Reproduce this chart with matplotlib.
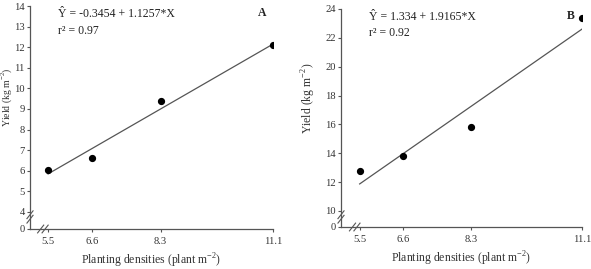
import matplotlib
matplotlib.use("Agg")
import matplotlib.pyplot as plt
from matplotlib.lines import Line2D
from matplotlib.transforms import Affine2D, ScaledTranslation

plt.rcParams['font.family'] = ['Liberation Serif', 'DejaVu Serif']
plt.rcParams['mathtext.fontset'] = 'custom'
plt.rcParams['mathtext.rm'] = 'Liberation Serif'

# data
densities = [5.5, 6.6, 8.3, 11.1]
yield_a = [6.05, 6.62, 9.38, 12.10]
yield_b = [12.78, 13.78, 15.82, 23.38]
coef_a = (-0.3454, 1.1257)
coef_b = (1.334, 1.9165)
eq_a = "Ŷ = -0.3454 + 1.1257*X"
eq_b = "Ŷ = 1.334 + 1.9165*X"
r2_a = "r² = 0.97"
r2_b = "r² = 0.92"
yticks_a = [4, 5, 6, 7, 8, 9, 10, 11, 12, 13, 14]
yticks_b = [10, 12, 14, 16, 18, 20, 22, 24]

gray = '#555555'
fig = plt.figure(figsize=(5.91, 2.69), dpi=100)


def brk(ax, x, y, horizontal):
    # small "//" break marks, sizes in points
    for off in (-1.6, 1.6):
        if horizontal:
            xs, ys = [off - 2.2, off + 2.2], [-2.8, 2.8]
        else:
            xs, ys = [-2.2, 2.2], [off - 2.8, off + 2.8]
        tr = Affine2D().scale(1 / 72.) + fig.dpi_scale_trans + ScaledTranslation(x, y, ax.transAxes)
        ax.add_line(Line2D(xs, ys, transform=tr, color=gray, lw=0.8, clip_on=False))


def panel(rect, yv, coef, yticks, y0, ytop, xlo, eq, r2, letter, ybx, xbx, ylx, ylsize):
    ax = fig.add_axes(rect)
    ax.plot(densities, yv, 'o', color='black', ms=4.2, zorder=3)
    fit = [coef[0] + coef[1] * d for d in (densities[0], densities[-1])]
    ax.plot([densities[0], densities[-1]], fit, color=gray, lw=0.9)
    ax.set_xlim(xlo, 11.1)
    ax.set_ylim(y0, ytop)
    ax.set_xticks(densities)
    ax.set_xticklabels([str(d) for d in densities])
    ax.set_yticks([y0] + yticks)
    ax.set_yticklabels(['0'] + [str(t) for t in yticks])
    for s in ('top', 'right'):
        ax.spines[s].set_visible(False)
    for s in ('left', 'bottom'):
        ax.spines[s].set_color(gray)
        ax.spines[s].set_linewidth(0.9)
    ax.tick_params(length=2.2, width=0.8, color=gray, labelsize=7.6, labelcolor='#333333', pad=1.5)
    ax.tick_params(axis='x', pad=3.5)
    ax.set_xlabel("Planting densities (plant m$^{-2}$)", fontsize=8.5, color='#333333', labelpad=4)
    ax.set_ylabel("Yield (kg m$^{-2}$)", fontsize=ylsize, color='#333333')
    ax.yaxis.set_label_coords(ylx, 0.59)
    ax.text(0.115, 0.965, eq, transform=ax.transAxes, fontsize=8.5, va='center', color='#222222')
    ax.text(0.115, 0.89, r2, transform=ax.transAxes, fontsize=8.5, va='center', color='#222222')
    ax.text(letter[1], 0.97, letter[0], transform=ax.transAxes, fontsize=8.5,
            fontweight='bold', va='center', ha='center', color='#222222')
    brk(ax, 0, ybx, False)
    brk(ax, xbx, 0, True)
    return ax


panel([30 / 591, 40 / 269, 243 / 591, 223 / 269], yield_a, coef_a, yticks_a, 3.17, 14,
      5.05, eq_a, r2_a, ('A', 0.956), 0.054, 0.053, -0.066, 7.0)
panel([341 / 591, 42 / 269, 241 / 591, 218 / 269], yield_b, coef_b, yticks_b, 8.89, 24,
      5.03, eq_b, r2_b, ('B', 0.955), 0.046, 0.057, -0.095, 8.5)

fig.savefig("out.png", dpi=100)
